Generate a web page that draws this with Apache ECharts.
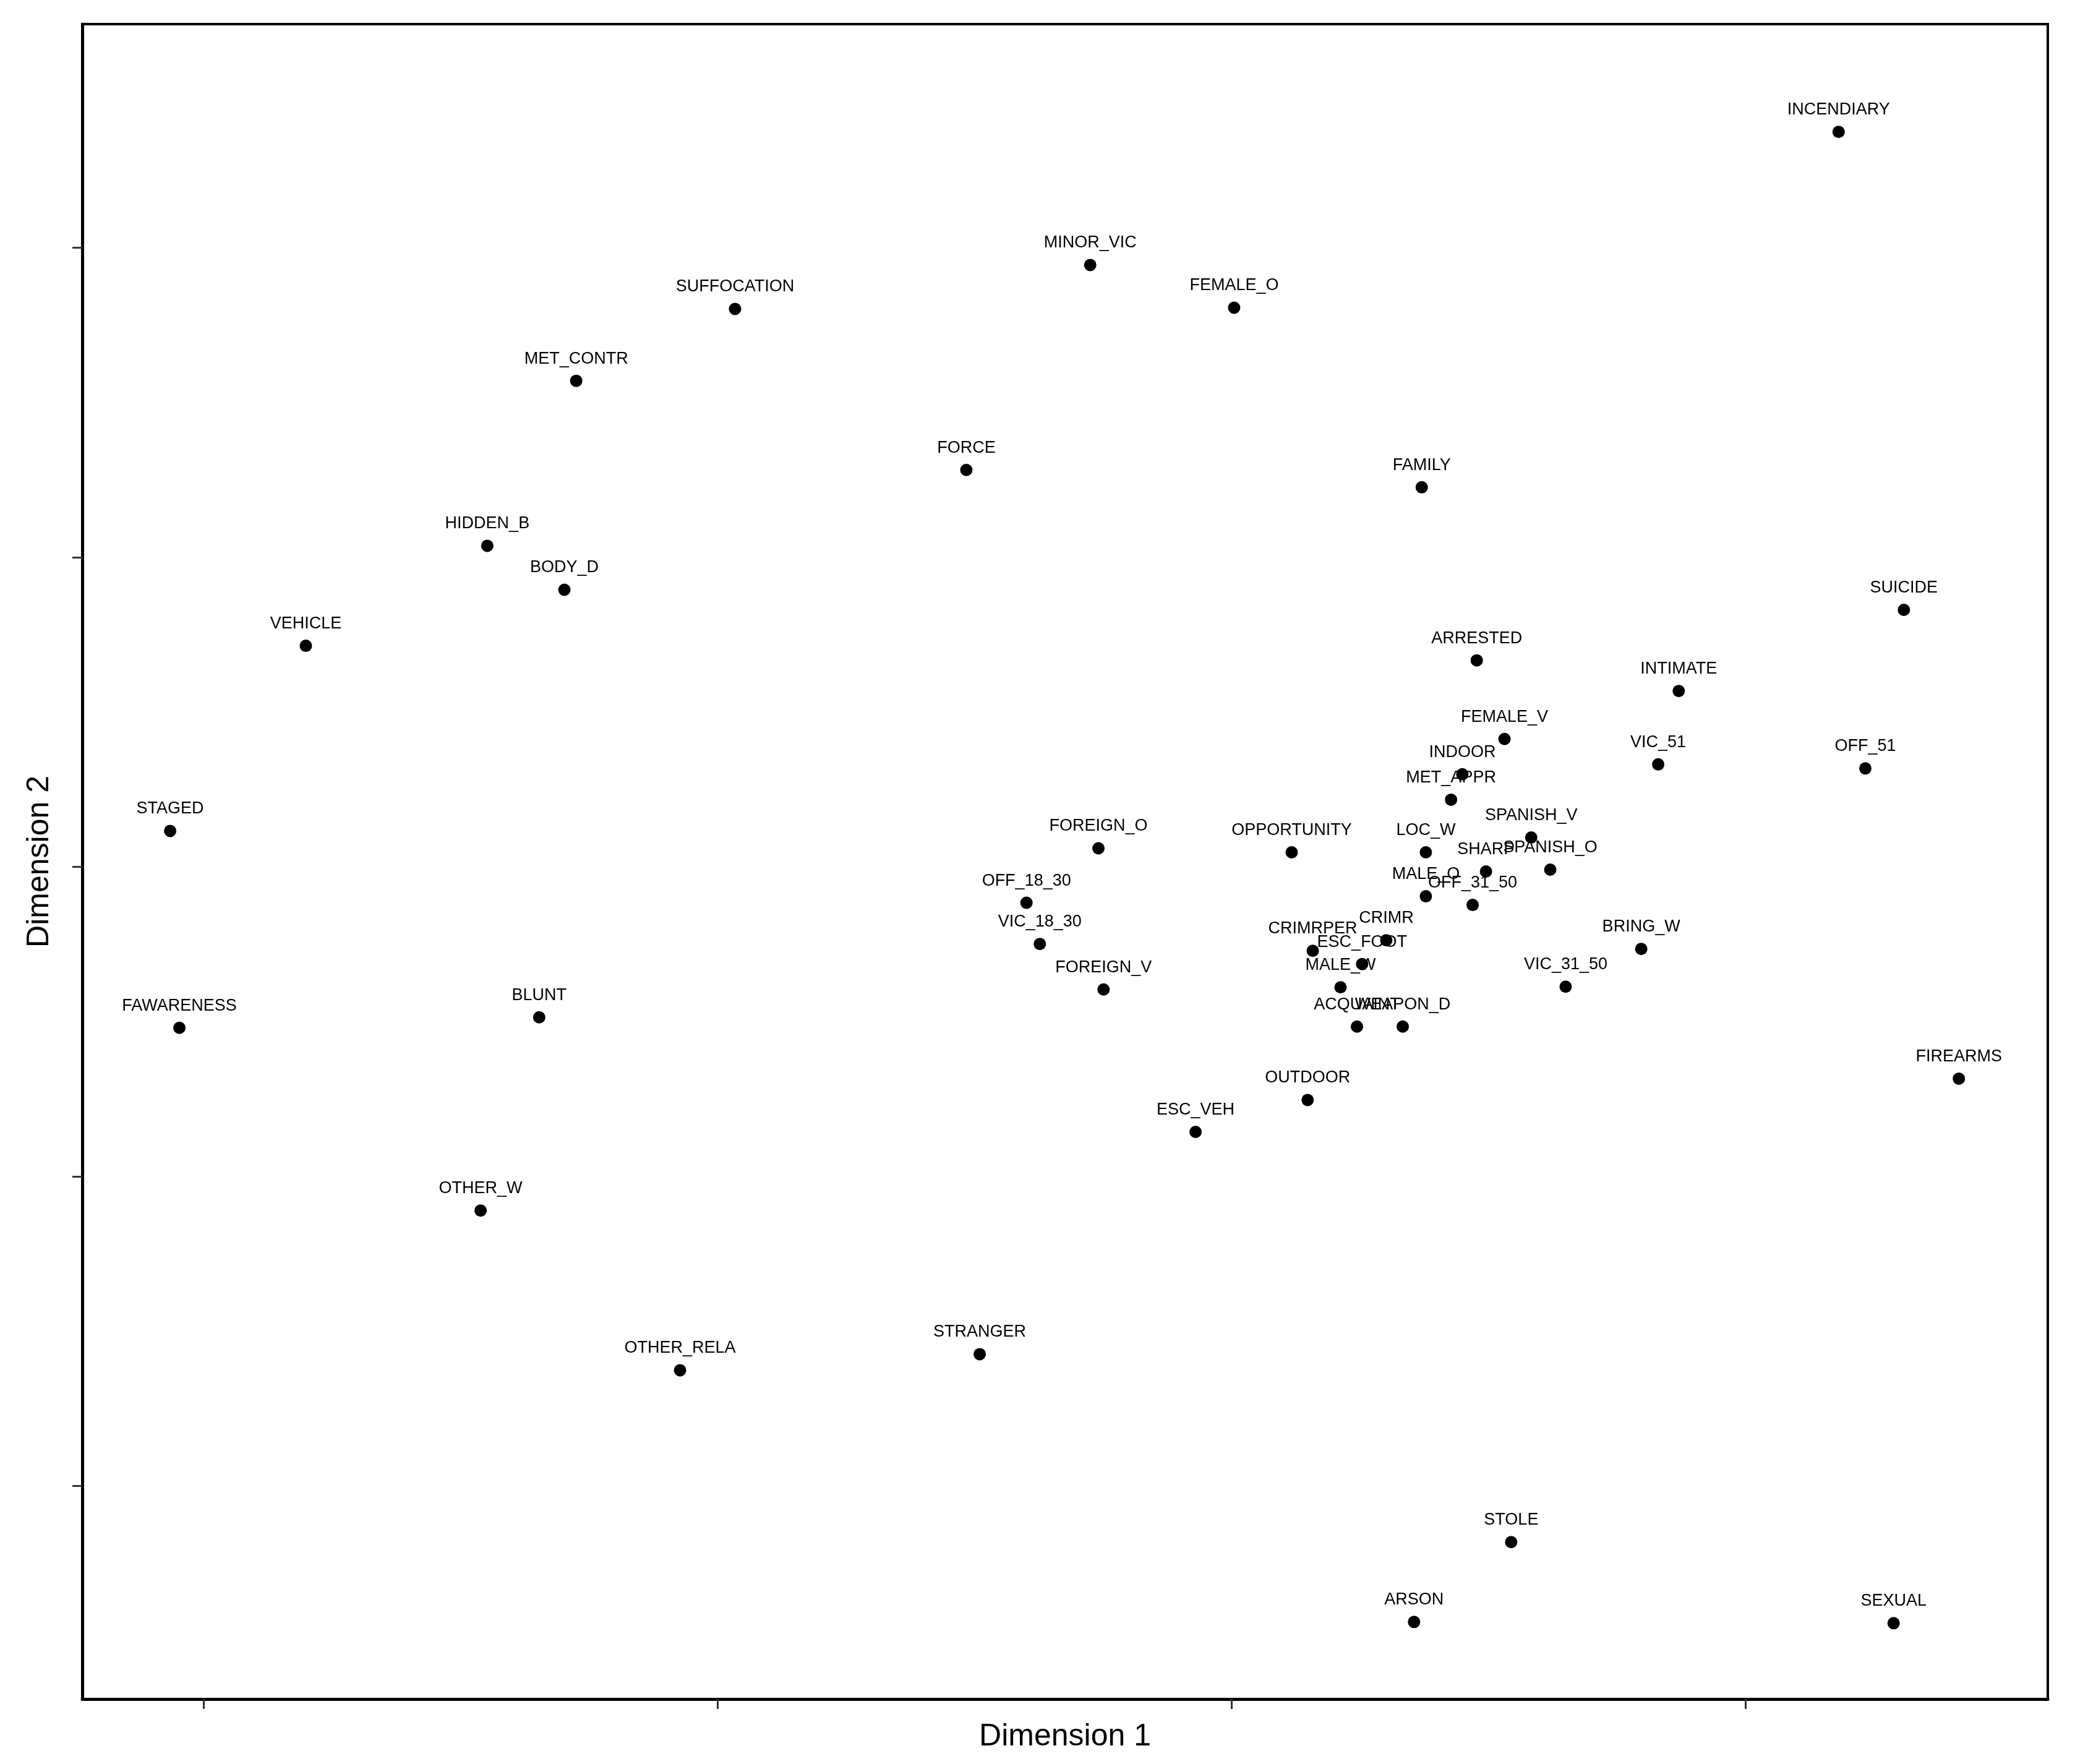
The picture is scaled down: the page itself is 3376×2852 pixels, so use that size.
<!DOCTYPE html>
<html>
<head>
<meta charset="utf-8">
<script src="https://cdn.jsdelivr.net/npm/echarts@6/dist/echarts.min.js"></script>
<style>
  html, body { margin: 0; padding: 0; background: #fff; }
  #chart { width: 3376px; height: 2852px; }
</style>
</head>
<body>
<div id="chart"></div>
<script>
// category names (one per point)
const names = [
  'INCENDIARY', 'MINOR_VIC', 'FEMALE_O', 'SUFFOCATION', 'MET_CONTR', 'FORCE', 'FAMILY',
  'HIDDEN_B', 'BODY_D', 'VEHICLE', 'SUICIDE', 'ARRESTED', 'INTIMATE', 'FEMALE_V',
  'VIC_51', 'OFF_51', 'INDOOR', 'MET_APPR', 'STAGED', 'FOREIGN_O', 'OPPORTUNITY',
  'LOC_W', 'SPANISH_V', 'SHARP', 'SPANISH_O', 'MALE_O', 'OFF_31_50', 'OFF_18_30',
  'VIC_18_30', 'CRIMRPER', 'CRIMR', 'ESC_FOOT', 'MALE_W', 'ACQUAINT', 'WEAPON_D',
  'VIC_31_50', 'BRING_W', 'FOREIGN_V', 'BLUNT', 'FAWARENESS', 'FIREARMS', 'OUTDOOR',
  'ESC_VEH', 'OTHER_W', 'STRANGER', 'OTHER_RELA', 'STOLE', 'ARSON', 'SEXUAL'
];

// Dimension 1 values
const dim1 = [
  1.181, -0.275, 0.005, -0.966, -1.275, -0.516, 0.370,
  -1.448, -1.298, -1.801, 1.308, 0.477, 0.870, 0.531,
  0.830, 1.233, 0.449, 0.427, -2.065, -0.259, 0.117,
  0.378, 0.583, 0.495, 0.620, 0.378, 0.469, -0.399,
  -0.373, 0.158, 0.301, 0.254, 0.212, 0.244, 0.333,
  0.650, 0.797, -0.249, -1.347, -2.047, 1.415, 0.148,
  -0.070, -1.461, -0.490, -1.073, 0.544, 0.355, 1.288
];

// Dimension 2 values
const dim2 = [
  2.374, 1.944, 1.806, 1.802, 1.570, 1.282, 1.226,
  1.037, 0.895, 0.714, 0.830, 0.667, 0.568, 0.413,
  0.331, 0.318, 0.299, 0.217, 0.116, 0.060, 0.047,
  0.047, 0.095, -0.015, -0.009, -0.095, -0.123, -0.116,
  -0.249, -0.271, -0.237, -0.314, -0.389, -0.516, -0.516,
  -0.387, -0.265, -0.396, -0.486, -0.520, -0.684, -0.753,
  -0.856, -1.110, -1.574, -1.626, -2.181, -2.439, -2.443
];

// tick positions (no tick labels in the original)
const xTicks = [-2, -1, 0, 1];
const yTicks = [-2, -1, 0, 1, 2];

const points = names.map((n, i) => ({ name: n, value: [dim1[i], dim2[i]] }));

const chart = echarts.init(document.getElementById('chart'));

const option = {
  backgroundColor: '#fff',
  animation: false,
  textStyle: { fontFamily: 'Liberation Sans, Arial, sans-serif' },
  grid: {
    left: 133,
    right: 65,
    top: 39,
    bottom: 105,
    show: true,
    borderColor: '#000',
    borderWidth: 4
  },
  xAxis: {
    type: 'value',
    min: -2.236,
    max: 1.588,
    name: 'Dimension 1',
    nameLocation: 'middle',
    nameGap: 36,
    nameTextStyle: { fontSize: 50, color: '#000', fontFamily: 'Liberation Sans' },
    axisLine: { show: true, onZero: false, lineStyle: { color: '#000', width: 5 } },
    axisTick: { show: true, length: 16, customValues: xTicks, lineStyle: { color: '#333', width: 3 } },
    axisLabel: { show: false },
    splitLine: { show: false }
  },
  yAxis: {
    type: 'value',
    min: -2.688,
    max: 2.722,
    name: 'Dimension 2',
    nameLocation: 'middle',
    nameGap: 44,
    nameTextStyle: { fontSize: 50, color: '#000', fontFamily: 'Liberation Sans' },
    axisLine: { show: true, onZero: false, lineStyle: { color: '#000', width: 5 } },
    axisTick: { show: true, length: 16, customValues: yTicks, lineStyle: { color: '#333', width: 3 } },
    axisLabel: { show: false },
    splitLine: { show: false }
  },
  series: [
    {
      type: 'scatter',
      data: points,
      symbol: 'circle',
      symbolSize: 20,
      itemStyle: { color: '#000', opacity: 1 },
      label: {
        show: true,
        position: 'top',
        distance: 12,
        formatter: '{b}',
        color: '#000',
        opacity: 1,
        fontSize: 27,
        fontFamily: 'Liberation Sans'
      }
    }
  ]
};

chart.setOption(option);

window.addEventListener('resize', () => {
  chart.resize();
});
</script>
</body>
</html>
